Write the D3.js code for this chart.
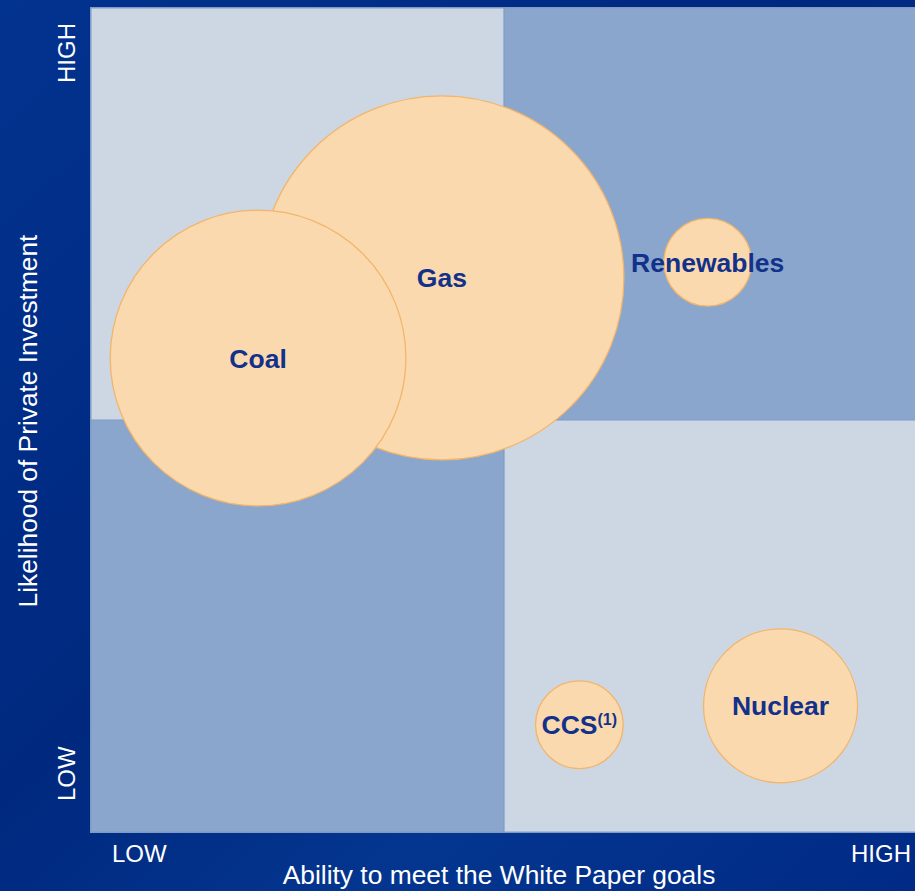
<!DOCTYPE html>
<html><head><meta charset="utf-8">
<script src="https://cdn.jsdelivr.net/npm/d3@7"></script>
<style>html,body{margin:0;padding:0;background:#022d8c;}svg{display:block;}</style>
</head><body>
<script>
const categories = ["Gas", "Coal", "Renewables", "CCS", "Nuclear"];
const abilityValues = [4.25, 2.03, 7.46, 5.91, 8.34];      // x: ability to meet goals (0-10)
const investmentValues = [6.72, 5.75, 6.91, 1.31, 1.54];   // y: likelihood of private investment (0-10)
const sizeValues = [100, 66, 5.8, 5.8, 17.9];              // relative bubble size
const xTickLabels = ["LOW", "HIGH"];
const yTickLabels = ["LOW", "HIGH"];
const xTitle = "Ability to meet the White Paper goals";
const yTitle = "Likelihood of Private Investment";

const W = 915, H = 891;
const L = 90, R = 918, T = 7, B = 833;

const svg = d3.select("body").append("svg").attr("width", W).attr("height", H);
const defs = svg.append("defs");
const grad = defs.append("linearGradient").attr("id", "bg").attr("x1", "0").attr("y1", "0").attr("x2", "1").attr("y2", "1");
grad.append("stop").attr("offset", "0").attr("stop-color", "#02338f");
grad.append("stop").attr("offset", "0.45").attr("stop-color", "#00287f");
grad.append("stop").attr("offset", "0.7").attr("stop-color", "#04368f");
grad.append("stop").attr("offset", "1").attr("stop-color", "#002a85");
svg.append("rect").attr("width", W).attr("height", H).attr("fill", "url(#bg)");

const x = d3.scaleLinear().domain([0, 10]).range([L, R]);
const y = d3.scaleLinear().domain([0, 10]).range([B, T]);
const r = d3.scaleSqrt().domain([0, 100]).range([0, 182]);

const light = "#cdd7e3", mid = "#8aa6cc";
const quads = [
  {x0: 0, x1: 5, y0: 5, y1: 10, c: light},
  {x0: 5, x1: 10, y0: 5, y1: 10, c: mid},
  {x0: 0, x1: 5, y0: 0, y1: 5, c: mid},
  {x0: 5, x1: 10, y0: 0, y1: 5, c: light}
];
svg.append("g").selectAll("rect").data(quads).join("rect")
  .attr("x", d => x(d.x0)).attr("y", d => y(d.y1))
  .attr("width", d => x(d.x1) - x(d.x0)).attr("height", d => y(d.y0) - y(d.y1))
  .attr("fill", d => d.c);
svg.append("rect").attr("x", L + 0.75).attr("y", T + 0.75).attr("width", R - L).attr("height", B - T - 1.5)
  .attr("fill", "none").attr("stroke", "#7e9bc8").attr("stroke-width", 1.5);
svg.append("line").attr("x1", x(5)).attr("x2", x(5)).attr("y1", T).attr("y2", B).attr("stroke", "#7e9bc8").attr("stroke-width", 1.2);
svg.append("line").attr("x1", L).attr("x2", R).attr("y1", y(5)).attr("y2", y(5)).attr("stroke", "#7e9bc8").attr("stroke-width", 1.2);

const data = categories.map((c, i) => ({name: c, x: abilityValues[i], y: investmentValues[i], s: sizeValues[i]}));

svg.append("g").selectAll("circle").data(data).join("circle")
  .attr("cx", d => x(d.x)).attr("cy", d => y(d.y)).attr("r", d => r(d.s))
  .attr("fill", "#fbd9ae").attr("stroke", "#f2b56b").attr("stroke-width", 1.3);

const labels = svg.append("g").selectAll("text").data(data).join("text")
  .attr("x", d => x(d.x)).attr("y", d => y(d.y) + 9.5)
  .attr("text-anchor", "middle")
  .attr("font-family", "Liberation Sans, Arial, sans-serif")
  .attr("font-weight", "bold").attr("font-size", 26.5)
  .attr("fill", "#12318a");
labels.each(function(d) {
  const t = d3.select(this);
  if (d.name === "CCS") {
    t.append("tspan").text("CCS");
    t.append("tspan").attr("font-size", 16).attr("dy", -9).text("(1)");
  } else {
    t.text(d.name);
  }
});

const font = "Liberation Sans, Arial, sans-serif";
svg.append("text").attr("x", 112).attr("y", 862).attr("font-family", font).attr("font-size", 24)
  .attr("fill", "#fff").text(xTickLabels[0]);
svg.append("text").attr("x", 911).attr("y", 862).attr("text-anchor", "end").attr("font-family", font).attr("font-size", 24)
  .attr("fill", "#fff").text(xTickLabels[1]);
svg.append("text").attr("x", 499).attr("y", 884).attr("text-anchor", "middle").attr("font-family", font)
  .attr("font-size", 26.4).attr("fill", "#fff").text(xTitle);

svg.append("text").attr("transform", "translate(75,801) rotate(-90)").attr("font-family", font).attr("font-size", 24)
  .attr("fill", "#fff").text(yTickLabels[0]);
svg.append("text").attr("transform", "translate(75,23) rotate(-90)").attr("text-anchor", "end").attr("font-family", font).attr("font-size", 24)
  .attr("fill", "#fff").text(yTickLabels[1]);
svg.append("text").attr("transform", "translate(37,421) rotate(-90)").attr("text-anchor", "middle").attr("font-family", font)
  .attr("font-size", 26.3).attr("fill", "#fff").text(yTitle);
</script>
</body></html>
